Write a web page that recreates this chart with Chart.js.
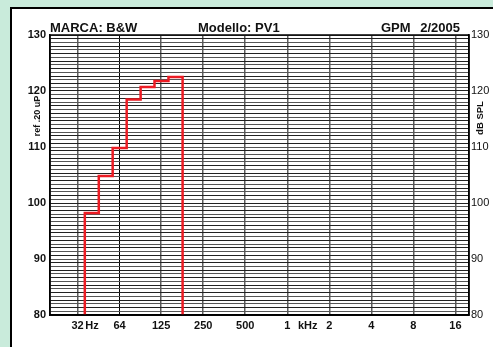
<!DOCTYPE html>
<html>
<head>
<meta charset="utf-8">
<script src="https://cdn.jsdelivr.net/npm/chart.js@4.4.1/dist/chart.umd.min.js"></script>
<style>
  html, body { margin: 0; padding: 0; background: #c9ebdb; }
  .panel { position: absolute; left: 10px; top: 7px; width: 483px; height: 340px; background: #fff;
           border-left: 2px solid #000; border-top: 2px solid #000; box-sizing: border-box; }
  .wrap { position: absolute; left: 0; top: 0; width: 493px; height: 347px; }
</style>
</head>
<body>
<div class="panel"></div>
<div class="wrap"><canvas id="chart" width="493" height="347"></canvas></div>
<script>
// 1/3 octave band edges (Hz) and the level of each band (dB SPL)
const bandEdges = [35.5, 44.7, 56.2, 70.8, 89.1, 112, 141, 178];
const bandLevels = [98.2, 104.8, 109.8, 118.5, 120.7, 121.8, 122.5];

// axis ticks
const freqTicks = [31.5, 40, 63, 125, 250, 500, 1000, 1400, 2000, 4000, 8000, 16000];
const freqLabels = ["32", "Hz", "64", "125", "250", "500", "1", "kHz", "2", "4", "8", "16"];
const splTicks = [80, 90, 100, 110, 120, 130];
const splMin = 80, splMax = 130;

const headerLeft = "MARCA: B&W";
const headerMid = "Modello: PV1";
const headerRight = ["GPM", "2/2005"];
const leftTitle = "ref .20 uP";
const rightTitle = "dB SPL";

const FONT = '"Liberation Sans", Arial, sans-serif';

// step outline: up at the first edge, across each band, down at the last edge
const points = [{ x: bandEdges[0], y: splMin }];
bandLevels.forEach((lvl, i) => {
  points.push({ x: bandEdges[i], y: lvl });
  points.push({ x: bandEdges[i + 1], y: lvl });
});
points.push({ x: bandEdges[bandEdges.length - 1], y: splMin });

// header, axis titles and frame
const decor = {
  id: "decor",
  afterDraw(chart) {
    const { ctx, chartArea: a } = chart;
    ctx.save();
    ctx.strokeStyle = "#000";
    ctx.lineWidth = 1.5;
    ctx.strokeRect(a.left, a.top, a.right - a.left, a.bottom - a.top);

    ctx.fillStyle = "#111";
    ctx.font = "bold 13px " + FONT;
    ctx.textBaseline = "alphabetic";
    ctx.textAlign = "left";
    ctx.fillText(headerLeft, 50, 31.5);
    ctx.fillText(headerMid, 198, 31.5);
    ctx.fillText(headerRight[0], 381, 31.5);
    ctx.textAlign = "right";
    ctx.fillText(headerRight[1], 460, 31.5);

    ctx.font = "bold 9px " + FONT;
    ctx.textAlign = "center";
    ctx.textBaseline = "middle";
    ctx.translate(37.5, 116);
    ctx.rotate(-Math.PI / 2);
    ctx.fillText(leftTitle, 0, 0);
    ctx.restore();

    ctx.save();
    ctx.fillStyle = "#111";
    ctx.font = "bold 9.5px " + FONT;
    ctx.textAlign = "center";
    ctx.textBaseline = "middle";
    ctx.translate(480.5, 118);
    ctx.rotate(-Math.PI / 2);
    ctx.fillText(rightTitle, 0, 0);
    ctx.restore();
  }
};

const isTen = (v) => Math.abs(v - Math.round(v / 10) * 10) < 1e-6;

new Chart(document.getElementById("chart"), {
  type: "scatter",
  data: {
    datasets: [{
      data: points,
      showLine: true,
      borderColor: "#ec1c24",
      borderWidth: 2.5,
      pointRadius: 0,
      tension: 0
    }]
  },
  options: {
    responsive: false,
    animation: false,
    layout: { padding: { top: 35, left: 0, right: 0, bottom: 0 } },
    plugins: { legend: { display: false }, tooltip: { enabled: false } },
    scales: {
      x: {
        type: "logarithmic",
        min: 20,
        max: 20000,
        afterBuildTicks: (s) => { s.ticks = freqTicks.map((v) => ({ value: v })); },
        afterFit: (s) => { s.height = 32; },
        ticks: {
          autoSkip: false,
          maxRotation: 0,
          padding: 4,
          color: "#111",
          font: { family: FONT, size: 11, weight: "bold" },
          callback: (v, i) => freqLabels[i]
        },
        grid: {
          drawTicks: false,
          lineWidth: (c) => (freqLabels[c.index] === "64" ? 1 : 1.5),
          color: (c) => {
            const lab = freqLabels[c.index];
            if (lab === "Hz" || lab === "kHz") return "rgba(0,0,0,0)";
            return lab === "64" ? "#000" : "#5c5c5c";
          }
        },
        border: { display: true, color: "#000", width: 1.5 }
      },
      y: {
        position: "left",
        min: splMin,
        max: splMax,
        afterBuildTicks: (s) => {
          const t = [];
          for (let i = 0; i <= 75; i++) t.push({ value: splMin + i * (splMax - splMin) / 75 });
          s.ticks = t;
        },
        afterFit: (s) => { s.width = 50; },
        ticks: {
          autoSkip: false,
          padding: 4,
          color: "#111",
          font: { family: FONT, size: 11, weight: "bold" },
          callback: (v) => (isTen(v) ? String(Math.round(v)) : "")
        },
        grid: {
          drawTicks: false,
          lineWidth: 1,
          color: (c) => (c.index % 2 ? "#555" : "#222")
        },
        border: { display: true, color: "#000", width: 1.5 }
      },
      y2: {
        position: "right",
        min: splMin,
        max: splMax,
        afterBuildTicks: (s) => { s.ticks = splTicks.map((v) => ({ value: v })); },
        afterFit: (s) => { s.width = 24; },
        ticks: {
          autoSkip: false,
          padding: 2,
          color: "#111",
          font: { family: FONT, size: 11 }
        },
        grid: { display: false, drawTicks: false },
        border: { display: true, color: "#000", width: 1.5 }
      }
    }
  },
  plugins: [decor]
});
</script>
</body>
</html>
